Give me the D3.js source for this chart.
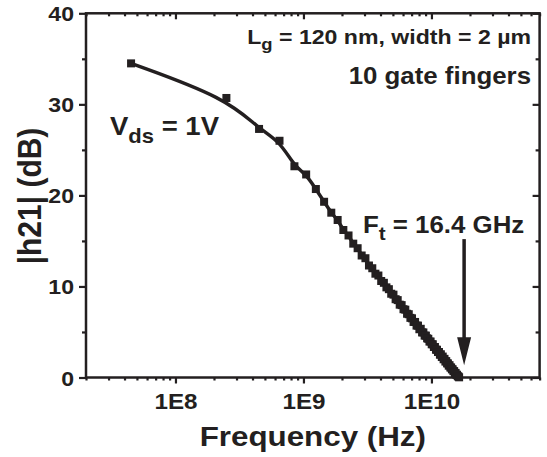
<!DOCTYPE html>
<html>
<head>
<meta charset="utf-8">
<script src="https://cdn.jsdelivr.net/npm/d3@7"></script>
<style>
  body { margin: 0; background: #fff; }
  text { font-family: "Liberation Sans", Arial, sans-serif; font-weight: bold; fill: #231f20; }
</style>
</head>
<body>
<svg id="chart"></svg>
<script>
// frequency points in GHz
const freqGHz = [0.045, 0.25, 0.45, 0.65, 0.85, 1.05, 1.25, 1.45,
  1.65, 1.85, 2.05, 2.25, 2.45, 2.65, 2.85, 3.05, 3.25, 3.45,
  3.65, 3.85, 4.05, 4.25, 4.45, 4.65, 4.85, 5.05, 5.25, 5.45,
  5.65, 5.85, 6.05, 6.25, 6.45, 6.65, 6.85, 7.05, 7.25, 7.45,
  7.65, 7.85, 8.05, 8.25, 8.45, 8.65, 8.85, 9.05, 9.25, 9.45,
  9.65, 9.85, 10.05, 10.25, 10.45, 10.65, 10.85, 11.05, 11.25, 11.45,
  11.65, 11.85, 12.05, 12.25, 12.45, 12.65, 12.85, 13.05, 13.25, 13.45,
  13.65, 13.85, 14.05, 14.25, 14.45, 14.65, 14.85, 15.05, 15.25, 15.45,
  15.65, 15.85, 16.05, 16.25, 16.45];
// |h21| in dB
const h21dB = [34.5, 30.7, 27.3, 26.0, 23.2, 22.3, 20.7, 19.3,
  18.1, 17.3, 16.2, 15.6, 14.7, 14.2, 13.4, 13.1, 12.3, 12.0,
  11.4, 11.2, 10.6, 10.4, 9.9, 9.7, 9.2, 9.1, 8.6, 8.5,
  8.0, 7.95, 7.5, 7.45, 7.0, 6.95, 6.55, 6.5, 6.1, 6.1,
  5.7, 5.7, 5.3, 5.35, 4.95, 4.95, 4.6, 4.6, 4.3, 4.25,
  3.95, 3.95, 3.65, 3.65, 3.35, 3.35, 3.05, 3.05, 2.8, 2.8,
  2.5, 2.55, 2.25, 2.3, 2.0, 2.05, 1.75, 1.8, 1.55, 1.55,
  1.3, 1.35, 1.1, 1.1, 0.9, 0.9, 0.7, 0.7, 0.5, 0.5,
  0.3, 0.3, 0.15, 0.1, 0.02];

const xTickVals = [1e8, 1e9, 1e10];
const xTickLabels = ['1E8', '1E9', '1E10'];
const yTickVals = [0, 10, 20, 30, 40];
const yMinorVals = [5, 15, 25, 35];

const W = 547, H = 457;
const mar = { top: 13.3, right: 7.4, bottom: 79.5, left: 86 };
const w = W - mar.left - mar.right;
const h = H - mar.top - mar.bottom;
const ink = '#231f20';
const SX = 1.1; // the original figure is a bit stretched sideways

const svg = d3.select('#chart').attr('width', W).attr('height', H);
const g = svg.append('g').attr('transform', `translate(${mar.left},${mar.top})`);

const x = d3.scaleLog().domain([2e7, 7e10]).range([0, w]);
const y = d3.scaleLinear().domain([0, 40]).range([h, 0]);

// minor x ticks 2..9 of each decade
let xMinor = [];
[1e7, 1e8, 1e9, 1e10].forEach(dec => {
  d3.range(2, 10).forEach(k => {
    const v = k * dec;
    if (v >= 2e7 && v <= 7e10) xMinor.push(v);
  });
});

function styleAxis(sel) {
  sel.select('.domain').remove();
  sel.selectAll('line').attr('stroke', ink).attr('stroke-width', 2.2);
}

// bottom axis (ticks out)
const xAx = g.append('g').attr('transform', `translate(0,${h})`)
  .call(d3.axisBottom(x).tickValues(xTickVals).tickSize(6)
    .tickFormat((d, i) => xTickLabels[i]));
styleAxis(xAx);
xAx.selectAll('text')
  .attr('font-size', 22).attr('dy', null).attr('y', 32)
  .attr('transform', `scale(${SX},1)`);
g.append('g').attr('transform', `translate(0,${h})`)
  .call(d3.axisBottom(x).tickValues(xMinor).tickSize(3).tickFormat(''))
  .call(styleAxis);

// top axis (ticks in)
g.append('g').call(d3.axisBottom(x).tickValues(xTickVals).tickSize(6).tickFormat('')).call(styleAxis);
g.append('g').call(d3.axisBottom(x).tickValues(xMinor).tickSize(3).tickFormat('')).call(styleAxis);

// left axis (ticks out)
const yAx = g.append('g')
  .call(d3.axisLeft(y).tickValues(yTickVals).tickSize(7));
styleAxis(yAx);
yAx.selectAll('text')
  .attr('font-size', 21).attr('dy', null).attr('y', 7.5).attr('x', -12 / SX)
  .attr('transform', `scale(${SX},1)`);
g.append('g').call(d3.axisLeft(y).tickValues(yMinorVals).tickSize(4).tickFormat('')).call(styleAxis);

// right axis (ticks in)
g.append('g').attr('transform', `translate(${w},0)`)
  .call(d3.axisLeft(y).tickValues(yTickVals).tickSize(7).tickFormat('')).call(styleAxis);
g.append('g').attr('transform', `translate(${w},0)`)
  .call(d3.axisLeft(y).tickValues(yMinorVals).tickSize(4).tickFormat('')).call(styleAxis);

// frame
g.append('rect').attr('width', w).attr('height', h)
  .attr('fill', 'none').attr('stroke', ink).attr('stroke-width', 2.5);

// data
const pts = freqGHz.map((f, i) => ({ f: f * 1e9, v: h21dB[i] }));
const line = d3.line().x(d => x(d.f)).y(d => y(d.v)).curve(d3.curveBasis);
g.append('path').datum(pts).attr('d', line)
  .attr('fill', 'none').attr('stroke', ink).attr('stroke-width', 3.4);
const ms = 8;
g.selectAll('.pt').data(pts).enter().append('rect')
  .attr('class', 'pt')
  .attr('x', d => x(d.f) - ms / 2).attr('y', d => y(d.v) - ms / 2)
  .attr('width', ms).attr('height', ms).attr('fill', ink);

// text helper: parts = [[string, isSub]]
function addText(px, py, anchor, size, parts, rot) {
  const tg = svg.append('g').attr('transform', rot
    ? `translate(${px},${py}) rotate(-90) scale(1,${SX})`
    : `translate(${px},${py}) scale(${SX},1)`);
  const t = tg.append('text').attr('text-anchor', anchor).attr('font-size', size);
  let down = false;
  parts.forEach(([s, sub]) => {
    const ts = t.append('tspan').text(s);
    if (sub && !down) { ts.attr('dy', size * 0.3).attr('font-size', size * 0.8); down = true; }
    else if (!sub && down) { ts.attr('dy', -size * 0.3); down = false; }
  });
  return t;
}

// axis titles
addText(mar.left + w / 2, 446, 'middle', 28.5, [['Frequency (Hz)']]);
addText(41, 196, 'middle', 30, [['|h21| (dB)']], true);

// annotations
addText(531, 44, 'end', 21, [['L'], ['g', true], [' = 120 nm, width = 2 \u00b5m']]);
addText(531, 84, 'end', 23.5, [['10 gate fingers']]);
addText(110, 135, 'start', 25, [['V'], ['ds', true], [' = 1V']]);
addText(363, 233, 'start', 23.5, [['F'], ['t', true], [' = 16.4 GHz']]);

// arrow to Ft
const ax = x(1.8e10) + mar.left;
const ay0 = y(15.2) + mar.top, ay1 = y(1.35) + mar.top;
svg.append('line').attr('x1', ax).attr('x2', ax).attr('y1', ay0).attr('y2', ay1 - 20)
  .attr('stroke', ink).attr('stroke-width', 3.5);
svg.append('path')
  .attr('d', `M${ax - 7},${ay1 - 28} L${ax + 7},${ay1 - 28} L${ax},${ay1} Z`)
  .attr('fill', ink);
</script>
</body>
</html>
